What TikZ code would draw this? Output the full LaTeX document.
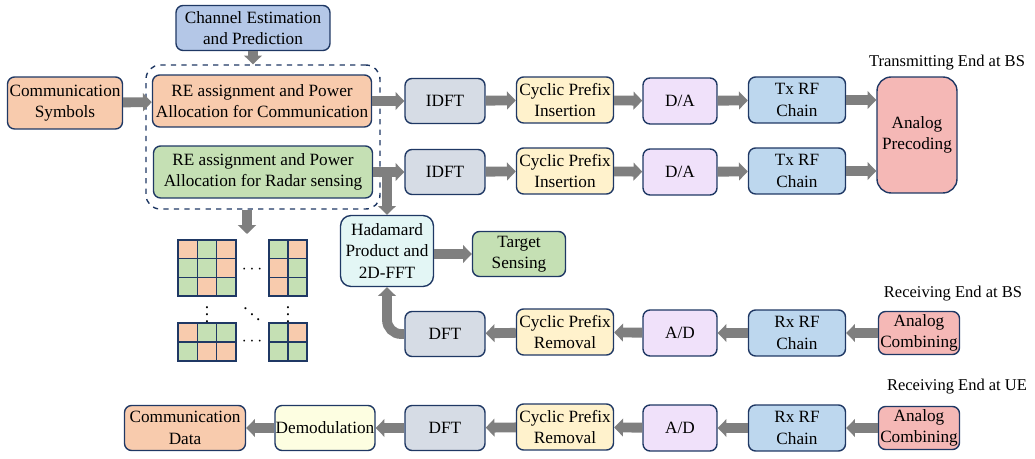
\documentclass[tikz,border=0pt]{standalone}
\usepackage{fontspec}
\setmainfont{Liberation Serif}
\usetikzlibrary{arrows.meta}

\definecolor{navy}{HTML}{1F3864}
\definecolor{chanblue}{HTML}{B4C7E7}
\definecolor{commor}{HTML}{F8CBAD}
\definecolor{radargr}{HTML}{C5E0B4}
\definecolor{dftgray}{HTML}{D6DCE5}
\definecolor{cpyel}{HTML}{FFF2CC}
\definecolor{convpur}{HTML}{F0E1FA}
\definecolor{rfblue}{HTML}{BDD7EE}
\definecolor{anapink}{HTML}{F5B8B6}
\definecolor{hadcyan}{HTML}{E3F6F5}
\definecolor{demodyel}{HTML}{FDFEE1}
\definecolor{arrgray}{HTML}{7F7F7F}

\tikzset{
  blk/.style={draw=navy, line width=0.8pt, rounded corners=4pt, align=center,
    inner sep=0pt, font=\fontsize{9.8}{12.2}\selectfont},
  chanbox/.style={blk, fill=chanblue, minimum width=3.08cm, minimum height=0.9cm},
  resbox/.style={blk, minimum width=4.38cm, minimum height=1.04cm},
  dftbox/.style={blk, fill=dftgray, minimum width=1.6cm, minimum height=0.9cm},
  cpbox/.style={blk, fill=cpyel, minimum width=1.94cm, minimum height=0.92cm},
  convbox/.style={blk, fill=convpur, minimum width=1.48cm, minimum height=0.92cm},
  rfbox/.style={blk, fill=rfblue, minimum width=1.94cm, minimum height=0.92cm},
  combbox/.style={blk, fill=anapink, minimum width=1.62cm, minimum height=0.86cm},
  endlbl/.style={font=\fontsize{9.4}{11}\selectfont, inner sep=0pt},
  arr/.style={draw=arrgray, line width=5.6pt, -{Triangle[width=10pt,length=5pt]}},
  recell/.style={draw=navy, line width=0.9pt},
  dots/.style={inner sep=0pt},
}

\begin{document}
\begin{tikzpicture}[x=0.02cm, y=-0.02cm]
  \useasboundingbox (0,0) rectangle (1035,459);

  % allocation stage
  \node[blk, draw=navy, dashed, rounded corners=8pt, minimum width=4.68cm, minimum height=2.88cm] (alloc) at (263,137) {};
  \node[chanbox] (chan) at (253,28) {Channel Estimation\\and Prediction};
  \node[blk, fill=commor, minimum width=2.3cm, minimum height=1.04cm] (syms) at (65,103) {Communication\\Symbols};
  \node[resbox, fill=commor] (recomm) at (262,101) {RE assignment and Power\\Allocation for Communication};
  \node[resbox, fill=radargr] (reradar) at (263,172) {RE assignment and Power\\Allocation for Radar sensing};

  % transmitting end at BS
  \node[endlbl] (txlbl) at (947,63) {Transmitting End at BS};
  \node[dftbox] (idfta) at (445,101) {IDFT};
  \node[cpbox] (cpia) at (565,100) {Cyclic Prefix\\Insertion};
  \node[convbox] (daa) at (680,101) {D/A};
  \node[rfbox] (txrfa) at (797,100) {Tx RF\\Chain};
  \node[dftbox] (idftb) at (445,172) {IDFT};
  \node[cpbox] (cpib) at (565,171) {Cyclic Prefix\\Insertion};
  \node[convbox] (dab) at (680,172) {D/A};
  \node[rfbox] (txrfb) at (797,171) {Tx RF\\Chain};
  \node[blk, fill=anapink, rounded corners=8pt, minimum width=1.6cm, minimum height=2.32cm] (prec) at (917,135) {Analog\\Precoding};

  % sensing
  \node[blk, fill=hadcyan, rounded corners=6pt, minimum width=1.86cm, minimum height=1.42cm] (hada) at (387,251) {Hadamard\\Product and\\2D-FFT};
  \node[blk, fill=radargr, minimum width=1.86cm, minimum height=0.9cm] (sense) at (519,254) {Target\\Sensing};

  % receiving end at BS
  \node[endlbl] (bslbl) at (953,294) {Receiving End at BS};
  \node[dftbox] (dftbs) at (445,334) {DFT};
  \node[cpbox] (cprbs) at (565,332) {Cyclic Prefix\\Removal};
  \node[convbox] (adbs) at (680,333) {A/D};
  \node[rfbox] (rxrfbs) at (797,333) {Rx RF\\Chain};
  \node[combbox] (combbs) at (919,333) {Analog\\Combining};

  % receiving end at UE
  \node[endlbl] (uelbl) at (957,387) {Receiving End at UE};
  \node[blk, fill=commor, minimum width=2.42cm, minimum height=0.9cm] (cdata) at (185,428) {Communication\\Data};
  \node[blk, fill=demodyel, minimum width=2cm, minimum height=0.9cm] (demod) at (325,428) {Demodulation};
  \node[dftbox] (dftue) at (445,428) {DFT};
  \node[cpbox] (cprue) at (565,427) {Cyclic Prefix\\Removal};
  \node[convbox] (adue) at (680,428) {A/D};
  \node[rfbox] (rxrfue) at (797,428) {Rx RF\\Chain};
  \node[combbox] (combue) at (919,428) {Analog\\Combining};

  % RE grid
  \foreach \cx/\cy/\cc in {0/0/commor,1/0/radargr,2/0/commor,0/1/radargr,1/1/radargr,2/1/commor,0/2/radargr,1/2/commor,2/2/radargr}
    \draw[recell, fill=\cc] (178+19.3*\cx,240+18.7*\cy) rectangle ++(19.3,18.7);
  \foreach \cx/\cy/\cc in {0/0/radargr,1/0/commor,0/1/commor,1/1/radargr,0/2/commor,1/2/radargr}
    \draw[recell, fill=\cc] (269+19*\cx,240+18.7*\cy) rectangle ++(19,18.7);
  \foreach \cx/\cy/\cc in {0/0/commor,1/0/radargr,2/0/radargr,0/1/radargr,1/1/commor,2/1/commor}
    \draw[recell, fill=\cc] (178+19.3*\cx,323+19*\cy) rectangle ++(19.3,19);
  \foreach \cx/\cy/\cc in {0/0/radargr,1/0/commor,0/1/radargr,1/1/radargr}
    \draw[recell, fill=\cc] (269+19*\cx,323+19*\cy) rectangle ++(19,19);
  \node[dots] (hdotsa) at (252,270) {$\cdots$};
  \node[dots] (hdotsb) at (252,342) {$\cdots$};
  \node[dots] (vdotsa) at (207,309) {$\vdots$};
  \node[dots] (vdotsb) at (288,309) {$\vdots$};
  \node[dots] (ddots) at (252,309) {$\ddots$};
  \coordinate (gridtop) at (247,234);

  % connectors
  \draw[arr] (chan.south) -- (alloc.north -| chan.south);
  \draw[arr] (syms) -- (recomm);
  \draw[arr] (alloc.south -| gridtop) -- (gridtop);
  \draw[arr] (recomm.east) -- (idfta.west);
  \draw[arr] (reradar.east) -- (idftb.west);
  \draw[arr] (reradar.east -| hada.north) -- (hada.north);
  \draw[arr] (idfta) -- (cpia);
  \draw[arr] (cpia) -- (daa);
  \draw[arr] (daa) -- (txrfa);
  \draw[arr] (txrfa.east) -- (txrfa.east -| prec.west);
  \draw[arr] (idftb) -- (cpib);
  \draw[arr] (cpib) -- (dab);
  \draw[arr] (dab) -- (txrfb);
  \draw[arr] (txrfb.east) -- (txrfb.east -| prec.west);
  \draw[arr] (hada.east |- sense) -- (sense);
  \draw[arr, rounded corners=8pt] (dftbs.west) -| (hada.south);
  \draw[arr] (combbs) -- (rxrfbs);
  \draw[arr] (rxrfbs) -- (adbs);
  \draw[arr] (adbs) -- (cprbs);
  \draw[arr] (cprbs) -- (dftbs);
  \draw[arr] (combue) -- (rxrfue);
  \draw[arr] (rxrfue) -- (adue);
  \draw[arr] (adue) -- (cprue);
  \draw[arr] (cprue) -- (dftue);
  \draw[arr] (dftue) -- (demod);
  \draw[arr] (demod) -- (cdata);
\end{tikzpicture}
\end{document}
